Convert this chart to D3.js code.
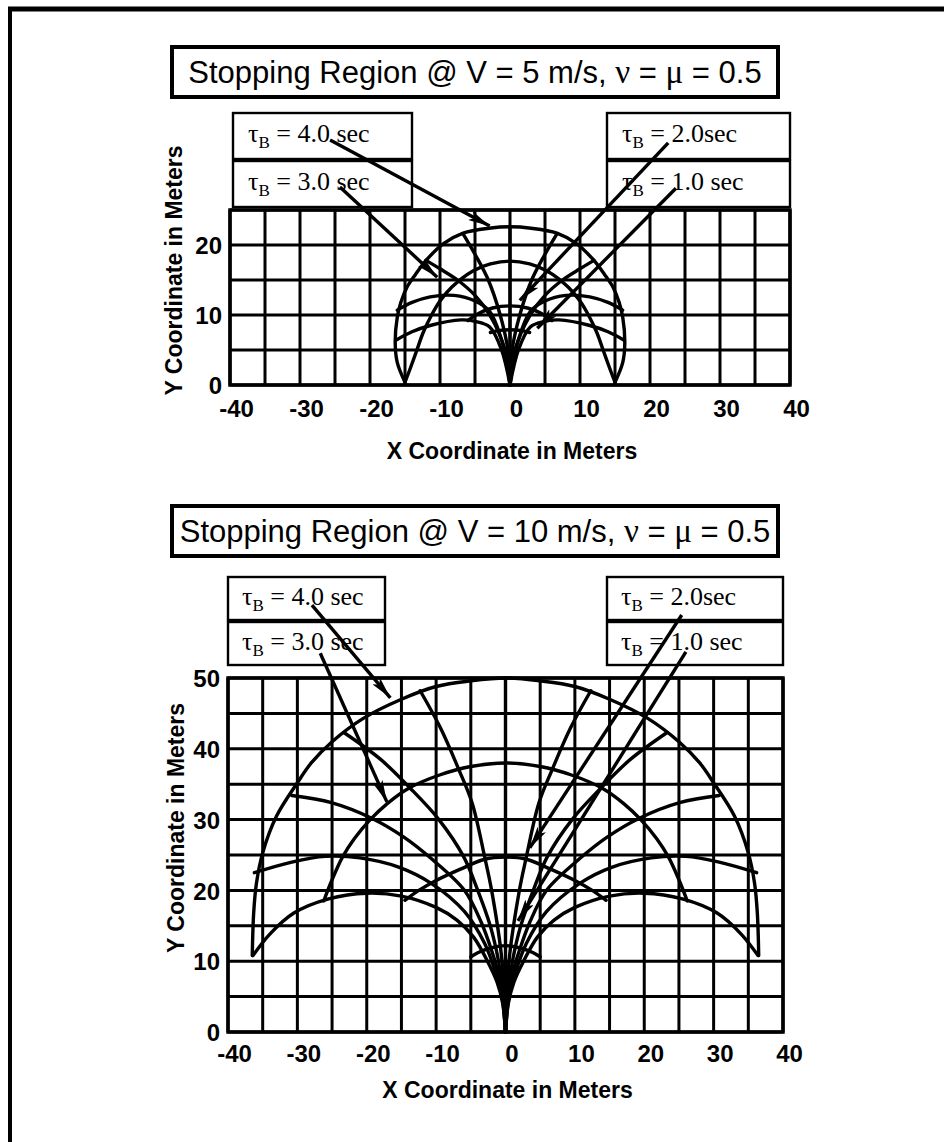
<!DOCTYPE html>
<html><head><meta charset="utf-8">
<script src="https://cdn.jsdelivr.net/npm/d3@7"></script>
<style>body{margin:0;background:#fff}svg{display:block}</style>
</head><body>
<svg id="c" width="944" height="1142"></svg>
<script>
// ---------------- DATA ----------------
const xTicks = [-40,-30,-20,-10,0,10,20,30,40];
const topYTicks = [0,10,20];
const botYTicks = [0,10,20,30,40,50];
const tauLabels = ["4.0 sec","3.0 sec","2.0sec","1.0 sec"];

// Top panel (V = 5 m/s): right-half curves, mirrored for the left half
const topArc4 = [[0,22.6],[3,22.4],[6.7,21.7],[9.5,20.2],[11.9,17.9],[13.5,15.8],[14.7,14],[15.6,11.8],[16.1,9.7],[16.4,6],[16.1,3.2],[15,0.4]];
const topArc3 = [[0,17.7],[2.8,17.3],[5.3,16.3],[8.3,14],[10,12],[11.2,10],[12.4,7.5],[13.3,5],[14.2,2.5],[15,0.4]];
const topArc2 = [[0,11.3],[2.5,11],[4.5,10.2],[6,9.2]];
const topArc1 = [[0,7.9],[1.5,7.8],[2.8,7.5]];
const topTraj1 = [[0,0],[0.3,5],[1.4,10],[3.1,15],[4.9,18.5],[6.7,21.6]];
const topTraj2 = [[0,0],[0.7,5],[2.9,10],[5,12.8],[7.5,15],[10,16.6],[12,17.8]];
const topTraj3 = [[0,0],[0.8,5],[2.9,10.5],[5,12],[8,12.8],[11.4,12.6],[14,11.8],[16.1,10.7]];
const topTraj4 = [[0,0],[1.2,5],[2.9,8.3],[5,9.1],[7,9.3],[11.4,8.5],[14,7.6],[16.3,6.4]];
const topStraight = [[0,0],[0,22.6]];
// arrows: [fromX, fromY, toX, toY] in data units
const topArrows = [[-25.7,35,-2.9,22.7],[-24.3,28.3,-10.4,15.4],[22.6,34.6,1.4,12.1],[23.7,28.1,3.9,8.1]];

// Bottom panel (V = 10 m/s)
const botArc4 = [[0,50],[5,49.6],[10,48.8],[15,47],[20.5,44.3],[25,41],[28,38],[30,35.2],[33,30.5],[35,25.3],[35.9,21],[36.3,16.8],[36.5,10.8]];
const botArc3 = [[0,38],[5,37.5],[9.5,36.3],[14,34.4],[17,32.3],[19.5,30],[21.8,27.3],[23.5,24.7],[25,21.5],[26.2,18.5]];
const botArc2 = [[0,24.7],[3,24.4],[6.5,23],[10.2,21.3],[12.5,20],[14.5,18.6]];
const botArc1 = [[0,12.2],[2,11.9],[4,11.2],[5,10.6]];
const botTrajMax = [[0,0],[0.4,4],[1.2,7],[2.6,10],[4.6,13.4],[7,15.8],[10,17.6],[15,19.2],[20,19.6],[25.5,18.8],[30.5,16.8],[34,13.8],[36.4,10.8]];
const botTraj4 = [[0,0],[0.5,5],[1.3,8],[3,12.5],[5.9,17],[10.7,21],[15.4,23.3],[21,24.6],[26,24.8],[30.8,24],[36.2,22.5]];
const botTraj3 = [[0,0],[0.4,5],[1,8.2],[2,11.5],[3.5,15.5],[5.9,20],[10.7,24.5],[14.6,27.5],[19.3,30.2],[25.1,32.4],[30.8,33.4]];
const botTraj2 = [[0,0],[0.25,5],[1,10],[2.2,15],[4,20],[6,24.7],[9.6,30],[13.8,34.5],[18,38.5],[23.3,42.3]];
const botTraj1 = [[0,0],[0.5,10],[2,20],[3,24.7],[4.8,32.3],[6.7,37],[9.4,43],[12.3,48.2]];
const botStraight = [[0,0],[0,50]];
const botArrows = [[-27.9,60.3,-16.6,47.2],[-26.7,53.5,-17.1,32.5],[25.4,58.9,3.5,26],[26,53.7,1.8,15.7]];

// ---------------- LAYOUT ----------------
const svg = d3.select("#c");
const SANS = "'Liberation Sans', Arial, Helvetica, sans-serif";
const SERIF = "'Liberation Serif', 'Times New Roman', serif";

svg.append("defs").append("marker")
  .attr("id","ah").attr("markerUnits","userSpaceOnUse")
  .attr("viewBox","0 0 22 10").attr("refX",22).attr("refY",5)
  .attr("markerWidth",22).attr("markerHeight",10).attr("orient","auto")
  .append("path").attr("d","M0,0 L22,5 L0,10 L5,5 Z").attr("fill","#000");

// page frame
svg.append("line").attr("x1",8).attr("y1",9).attr("x2",944).attr("y2",9).attr("stroke","#000").attr("stroke-width",5);
svg.append("line").attr("x1",10).attr("y1",7).attr("x2",10).attr("y2",1142).attr("stroke","#000").attr("stroke-width",4);

const panels = [
  {speed:"5", x0:230, x1:790, yb:385, yt:210, yMax:25, yTicks:topYTicks,
   title:[172,47,606,50], boxL:[233,113,179,46], boxR:[607,113,183,46], boxGap:2, textDx:15,
   arcs:[topArc4,topArc3,topArc2,topArc1], traj:[topTraj1,topTraj2,topTraj3,topTraj4], straight:topStraight,
   arrows:topArrows, xLabY:416, xTitleY:459, yTitleX:182},
  {speed:"10", x0:228, x1:783, yb:1032, yt:678, yMax:50, yTicks:botYTicks,
   title:[172,506,606,50], boxL:[228,577,157,43], boxR:[607,577,176,43], boxGap:2, textDx:14,
   arcs:[botArc4,botArc3,botArc2,botArc1], traj:[botTrajMax,botTraj4,botTraj3,botTraj2,botTraj1], straight:botStraight,
   arrows:botArrows, xLabY:1061, xTitleY:1098, yTitleX:184}
];

panels.forEach(p => {
  const x = d3.scaleLinear().domain([-40,40]).range([p.x0,p.x1]);
  const y = d3.scaleLinear().domain([0,p.yMax]).range([p.yb,p.yt]);
  const g = svg.append("g");

  // title box with heavy border
  const [tx,ty,tw,th] = p.title;
  g.append("rect").attr("x",tx+2).attr("y",ty+2).attr("width",tw).attr("height",th).attr("fill","#000");
  g.append("rect").attr("x",tx).attr("y",ty).attr("width",tw).attr("height",th).attr("fill","#fff").attr("stroke","#000").attr("stroke-width",4);
  const tt = g.append("text").attr("x",tx+tw/2).attr("y",ty+th/2+11).attr("text-anchor","middle")
    .attr("font-family",SANS).attr("font-size",31).attr("fill","#000");
  tt.append("tspan").text("Stopping Region @ V = "+p.speed+" m/s, ");
  tt.append("tspan").attr("font-family",SERIF).attr("font-size",33).text("ν");
  tt.append("tspan").text(" = ");
  tt.append("tspan").attr("font-family",SERIF).attr("font-size",33).text("μ");
  tt.append("tspan").text(" = 0.5");

  // grid
  const gx = d3.range(-40,41,5), gy = d3.range(0,p.yMax+1,5);
  g.selectAll(null).data(gx).join("line").attr("x1",d=>x(d)).attr("x2",d=>x(d)).attr("y1",y(0)).attr("y2",y(p.yMax))
    .attr("stroke","#000").attr("stroke-width",3);
  g.selectAll(null).data(gy).join("line").attr("y1",d=>y(d)).attr("y2",d=>y(d)).attr("x1",x(-40)).attr("x2",x(40))
    .attr("stroke","#000").attr("stroke-width",3);
  g.append("rect").attr("x",x(-40)).attr("y",y(p.yMax)).attr("width",x(40)-x(-40)).attr("height",y(0)-y(p.yMax))
    .attr("fill","none").attr("stroke","#000").attr("stroke-width",3.5);

  // axes labels
  const fmt = d => String(d);
  const xa = g.append("g").attr("transform",`translate(6,${p.xLabY-16})`)
    .call(d3.axisBottom(x).tickValues(xTicks).tickSize(0).tickPadding(0).tickFormat(fmt));
  xa.select(".domain").remove();
  xa.selectAll("text").attr("font-family",SANS).attr("font-size",24).attr("font-weight","bold").attr("fill","#000");
  const ya = g.append("g").attr("transform",`translate(${p.x0-8},1)`)
    .call(d3.axisLeft(y).tickValues(p.yTicks).tickSize(0).tickPadding(0).tickFormat(fmt));
  ya.select(".domain").remove();
  ya.selectAll("text").attr("font-family",SANS).attr("font-size",24).attr("font-weight","bold").attr("fill","#000");

  g.append("text").attr("x",(p.x0+p.x1)/2+2).attr("y",p.xTitleY).attr("text-anchor","middle")
    .attr("font-family",SANS).attr("font-size",23).attr("font-weight","bold").attr("fill","#000")
    .text("X Coordinate in Meters");
  g.append("text").attr("transform",`translate(${p.yTitleX},${(p.yb+p.yt)/2-27}) rotate(-90)`).attr("text-anchor","middle")
    .attr("font-family",SANS).attr("font-size",23).attr("font-weight","bold").attr("fill","#000")
    .text("Y Coordinate in Meters");

  // curves
  const line = d3.line().x(d=>x(d[0])).y(d=>y(d[1])).curve(d3.curveCatmullRom.alpha(0.5));
  const mirror = arr => arr.map(d=>[-d[0],d[1]]);
  const curves = [];
  p.arcs.forEach(a => { curves.push(mirror(a).reverse().concat(a.slice(1))); });
  p.traj.forEach(t => { curves.push(t); curves.push(mirror(t)); });
  curves.push(p.straight);
  g.selectAll(null).data(curves).join("path").attr("d",line).attr("fill","none")
    .attr("stroke","#000").attr("stroke-width",3.4).attr("stroke-linecap","round").attr("stroke-linejoin","round");

  // label boxes
  const boxes = [[p.boxL,0,0],[p.boxL,1,1],[p.boxR,0,2],[p.boxR,1,3]];
  boxes.forEach(([b,row,i]) => {
    const by = b[1] + row*(b[3]+p.boxGap);
    g.append("rect").attr("x",b[0]).attr("y",by).attr("width",b[2]).attr("height",b[3])
      .attr("fill","#fff").attr("stroke","#000").attr("stroke-width",2.4);
    const t = g.append("text").attr("x",b[0]+p.textDx).attr("y",by+b[3]/2+6).attr("font-family",SERIF)
      .attr("font-size",26).attr("fill","#000");
    t.append("tspan").text("τ");
    t.append("tspan").attr("font-size",17).attr("dy",6).text("B");
    t.append("tspan").attr("dy",-6).text(" = "+tauLabels[i]);
  });

  // arrows
  g.selectAll(null).data(p.arrows).join("line")
    .attr("x1",d=>x(d[0])).attr("y1",d=>y(d[1])).attr("x2",d=>x(d[2])).attr("y2",d=>y(d[3]))
    .attr("stroke","#000").attr("stroke-width",3.4).attr("marker-end","url(#ah)");
});
</script>
</body></html>
